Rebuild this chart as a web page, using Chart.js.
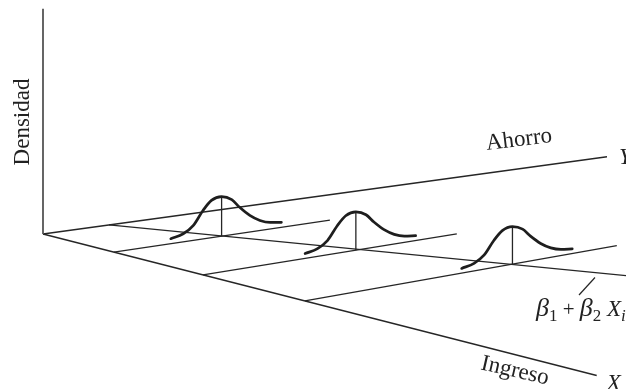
<!DOCTYPE html>
<html>
<head>
<meta charset="utf-8">
<script src="https://cdn.jsdelivr.net/npm/chart.js@4/dist/chart.umd.min.js"></script>
<style>
	body { margin: 0; background: #fff; }
	canvas { display: block; }
</style>
</head>
<body>
<canvas id="densidad_graph" width="626" height="389"></canvas>
<script>
// axis lengths (model units)
var ingresoMax = 10;
var ahorroMax = 10;
var densidadMax = 5.85;

// Ingreso levels X_i where a conditional distribution is drawn
var ingresoLevels = [1.28, 2.89, 4.73];
// mean Ahorro at each level (sits on the regression line)
var ahorroMeans = [1.91, 2.71, 3.68];
// how far each Ahorro guide line runs
var ahorroLineEnds = [3.83, 4.50, 5.53];

// regression line beta1 + beta2 X_i
var regressionIngreso = [0, 6.17];
var regressionAhorro = [1.17, 4.28];

// bell shape: offset from the mean, density
var bellOffsets = [-0.90, -0.68, -0.50, -0.33, -0.18, 0, 0.18, 0.32, 0.50, 0.68, 0.86, 1.06];
var bellDensity = [0.13, 0.21, 0.39, 0.74, 0.97, 1.03, 0.91, 0.68, 0.43, 0.26, 0.17, 0.13];
var bellScale = [1, 0.965, 0.947];

// oblique view of the (Ingreso, Ahorro, Densidad) space
var origin = {x: 43, y: 234};
function project(ingreso, ahorro, densidad) {
	var slope = -0.137 - 0.0085 * ingreso;
	return {
		x: origin.x + 55.37 * ingreso + 56.4 * ahorro,
		y: origin.y + 14.15 * ingreso + 56.4 * ahorro * slope - 38.5 * densidad
	};
}

function segment(pts, color, width) {
	return {
		data: pts,
		showLine: true,
		borderColor: color,
		borderWidth: width,
		pointRadius: 0,
		tension: 0,
		fill: false
	};
}

var datasets = [];
var ink = '#262626';

// bells and their stems
for (var i = 0; i < ingresoLevels.length; i++) {
	var bell = [];
	for (var j = 0; j < bellOffsets.length; j++) {
		bell.push(project(ingresoLevels[i], ahorroMeans[i] + bellOffsets[j], bellDensity[j] * bellScale[i]));
	}
	var b = segment(bell, '#1e1e1e', 2.7);
	b.cubicInterpolationMode = 'monotone';
	b.borderCapStyle = 'round';
	datasets.push(b);
	var peak = bellDensity[bellOffsets.indexOf(0)] * bellScale[i];
	datasets.push(segment([project(ingresoLevels[i], ahorroMeans[i], 0), project(ingresoLevels[i], ahorroMeans[i], peak)], ink, 1.3));
}

// axes
datasets.push(segment([project(0, 0, 0), project(0, 0, densidadMax)], '#555', 1.8));
datasets.push(segment([project(0, 0, 0), project(0, ahorroMax, 0)], ink, 1.3));
datasets.push(segment([project(0, 0, 0), project(ingresoMax, 0, 0)], ink, 1.3));

// regression line
datasets.push(segment([project(regressionIngreso[0], regressionAhorro[0], 0), project(regressionIngreso[1], regressionAhorro[1], 0)], ink, 1.3));

// Ahorro guide lines from each X_i
for (var k = 0; k < ingresoLevels.length; k++) {
	datasets.push(segment([project(ingresoLevels[k], 0, 0), project(ingresoLevels[k], ahorroLineEnds[k], 0)], ink, 1.3));
}

var labelsPlugin = {
	id: 'labels',
	afterDraw: function(chart) {
		var ctx = chart.ctx;
		var sx = chart.scales.x, sy = chart.scales.y;
		function at(p) { return {x: sx.getPixelForValue(p.x), y: sy.getPixelForValue(p.y)}; }
		var serif = '"Liberation Serif", "DejaVu Serif", serif';
		ctx.save();
		ctx.fillStyle = '#222';
		ctx.textBaseline = 'middle';

		// Densidad
		var o = at(project(0, 0, 0));
		ctx.save();
		ctx.translate(o.x - 20, 122);
		ctx.rotate(-Math.PI / 2);
		ctx.textAlign = 'center';
		ctx.font = '23px ' + serif;
		ctx.fillText('Densidad', 0, 0);
		ctx.restore();

		// Ahorro / Y
		var yEnd = at(project(0, ahorroMax, 0));
		ctx.save();
		ctx.translate(519, 140);
		ctx.rotate(-7 * Math.PI / 180);
		ctx.textAlign = 'center';
		ctx.font = '23px ' + serif;
		ctx.fillText('Ahorro', 0, 0);
		ctx.restore();
		ctx.textAlign = 'left';
		ctx.font = 'italic 23px ' + serif;
		ctx.fillText('Y', yEnd.x + 12, yEnd.y + 1);

		// Ingreso / X
		var xEnd = at(project(ingresoMax, 0, 0));
		ctx.save();
		ctx.translate(515, 371);
		ctx.rotate(13 * Math.PI / 180);
		ctx.textAlign = 'center';
		ctx.font = '23px ' + serif;
		ctx.fillText('Ingreso', 0, 0);
		ctx.restore();
		ctx.textAlign = 'left';
		ctx.font = 'italic 23px ' + serif;
		ctx.fillText('X', xEnd.x + 10, xEnd.y + 8);

		// beta1 + beta2 Xi with pointer
		ctx.strokeStyle = ink;
		ctx.lineWidth = 1.2;
		ctx.beginPath();
		ctx.moveTo(595, 277.5);
		ctx.lineTo(579, 295);
		ctx.stroke();

		ctx.textBaseline = 'alphabetic';
		var x = 536, base = 316;
		var parts = [
			['β', 'italic 26px', 0], ['1', '17px', 5], [' + ', '21px', 0],
			['β', 'italic 26px', 0], ['2', '17px', 5], [' X', 'italic 23px', 0], ['i', 'italic 17px', 5]
		];
		for (var p = 0; p < parts.length; p++) {
			ctx.font = parts[p][1] + ' ' + serif;
			ctx.fillText(parts[p][0], x, base + parts[p][2]);
			x += ctx.measureText(parts[p][0]).width;
		}
		ctx.restore();
	}
};

var densidadGraph = new Chart(document.getElementById('densidad_graph'), {
	type: 'scatter',
	data: { datasets: datasets },
	options: {
		responsive: false,
		animation: false,
		layout: { padding: 0 },
		scales: {
			x: { type: 'linear', min: 0, max: 626, display: false },
			y: { type: 'linear', min: 0, max: 389, reverse: true, display: false }
		},
		plugins: {
			legend: { display: false },
			tooltip: { enabled: false }
		}
	},
	plugins: [labelsPlugin]
});
</script>
</body>
</html>
